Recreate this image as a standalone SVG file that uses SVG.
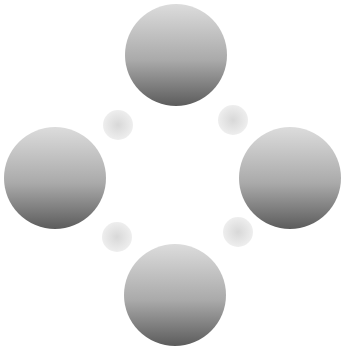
<svg xmlns="http://www.w3.org/2000/svg" width="346" height="349" viewBox="0 0 346 349">
<defs>
<linearGradient id="g" x1="0" y1="0" x2="0" y2="1">
<stop offset="0" stop-color="#dcdcdc"/>
<stop offset="0.55" stop-color="#aaaaaa"/>
<stop offset="1" stop-color="#5c5c5c"/>
</linearGradient>
<radialGradient id="s" cx="0.5" cy="0.5" r="0.5">
<stop offset="0" stop-color="#d8d8d8"/>
<stop offset="1" stop-color="#eeeeee"/>
</radialGradient>
</defs>
<style>
.big{fill:url(#g);}
.small{fill:url(#s);}
</style>
<rect width="346" height="349" fill="#ffffff"/>
<g id="connectors">
<circle class="small" cx="118" cy="125" r="15"/>
<circle class="small" cx="233" cy="120" r="15"/>
<circle class="small" cx="117" cy="237" r="15"/>
<circle class="small" cx="238" cy="232" r="15"/>
</g>
<g id="node-top"><circle class="big" cx="176" cy="55" r="51"/></g>
<g id="node-left"><circle class="big" cx="55" cy="178" r="51"/></g>
<g id="node-right"><circle class="big" cx="290" cy="178" r="51"/></g>
<g id="node-bottom"><circle class="big" cx="175" cy="295" r="51"/></g>
</svg>
